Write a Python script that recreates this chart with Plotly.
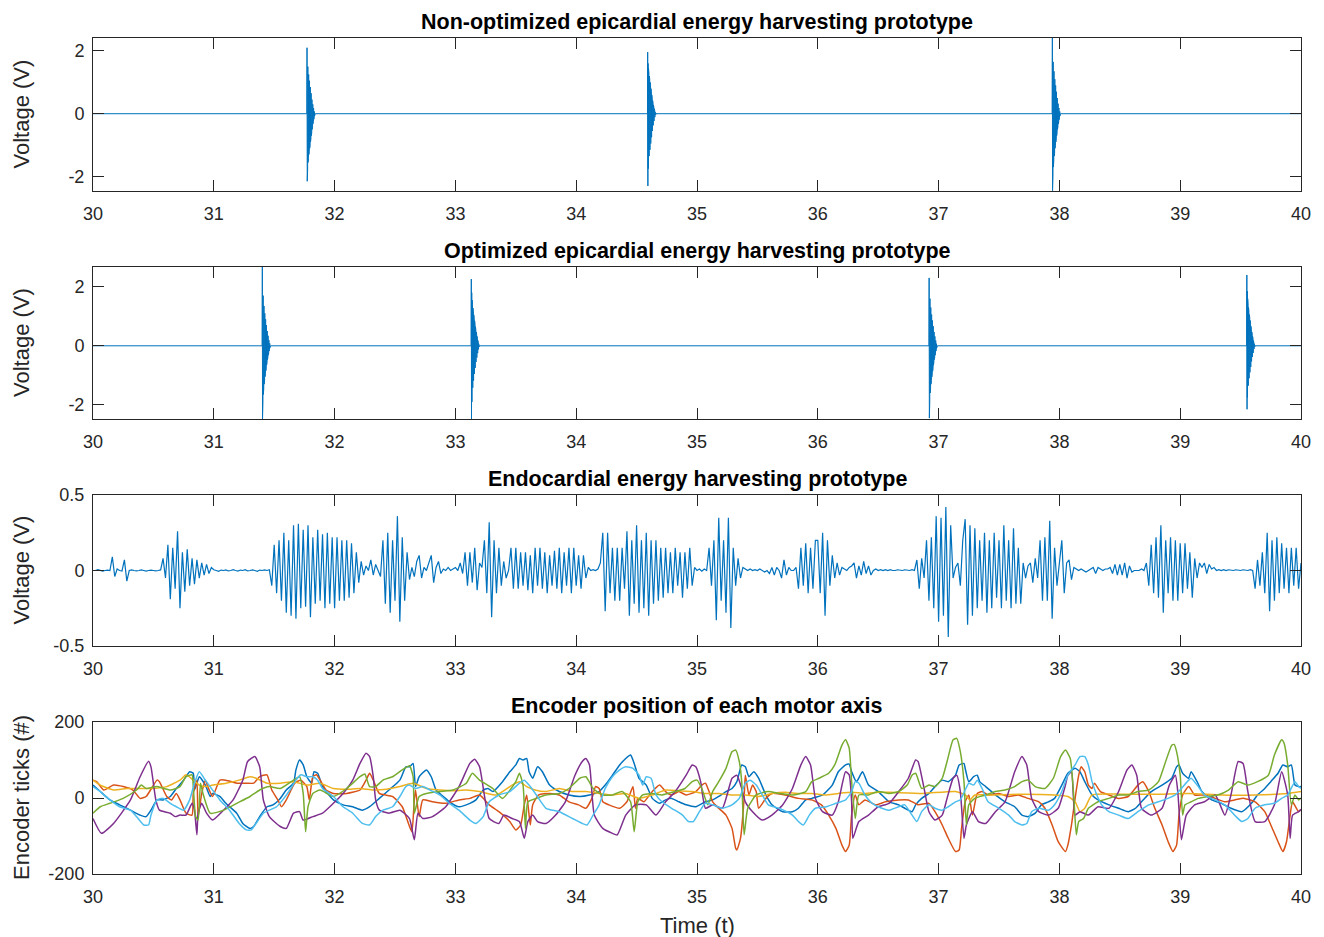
import plotly.graph_objects as go

# ---------------- data ----------------
titles = ["Non-optimized epicardial energy harvesting prototype",
          "Optimized epicardial energy harvesting prototype",
          "Endocardial energy harvesting prototype",
          "Encoder position of each motor axis"]
y_titles = ["Voltage (V)", "Voltage (V)", "Voltage (V)", "Encoder ticks (#)"]
x_title = "Time (t)"
x_ticks = [30, 31, 32, 33, 34, 35, 36, 37, 38, 39, 40]
x_ticklabels = ["30", "31", "32", "33", "34", "35", "36", "37", "38", "39", "40"]
volt_ticks = [-2, 0, 2]
volt_ticklabels = ["-2", "0", "2"]
endo_ticks = [-0.5, 0, 0.5]
endo_ticklabels = ["-0.5", "0", "0.5"]
enc_ticks = [-200, 0, 200]
enc_ticklabels = ["-200", "0", "200"]

# epicardial bursts (start time, samples every burst_dt)
burst_dt = 0.0017
epi1_starts = [31.77, 34.59, 37.94]
epi1_b1 = [0, 2.1, -2.15, 1.7, -1.8, 1.5, -1.55, 1.35, -1.4, 1.25, -1.3, 1.15, -1.2, 1.05, -1.1, 0.95, -1.0,
           0.85, -0.9, 0.75, -0.8, 0.65, -0.7, 0.55, -0.6, 0.45, -0.5, 0.38, -0.4, 0.3, -0.32, 0.24, -0.25,
           0.18, -0.18, 0.12, -0.12, 0.07, -0.07, 0.03, -0.03, 0]
epi1_b2 = [0, 1.96, -2.3, 1.6, -1.75, 1.45, -1.5, 1.3, -1.35, 1.2, -1.25, 1.1, -1.15, 1.0, -1.05, 0.9, -0.95,
           0.8, -0.85, 0.7, -0.75, 0.6, -0.65, 0.5, -0.55, 0.42, -0.45, 0.35, -0.37, 0.28, -0.3, 0.22, -0.23,
           0.16, -0.17, 0.11, -0.11, 0.06, -0.06, 0.03, -0.03, 0]
epi1_b3 = [0, 2.41, -2.45, 1.9, -1.95, 1.65, -1.7, 1.5, -1.5, 1.35, -1.35, 1.2, -1.25, 1.1, -1.1, 1.0, -1.0,
           0.9, -0.9, 0.8, -0.8, 0.7, -0.7, 0.6, -0.6, 0.5, -0.5, 0.4, -0.42, 0.32, -0.33, 0.25, -0.26,
           0.18, -0.19, 0.12, -0.12, 0.07, -0.07, 0.03, -0.03, 0]
epi2_starts = [31.40, 33.13, 36.92, 39.55]
epi2_b1 = [0, 2.67, -2.48, 2.0, -1.9, 1.7, -1.65, 1.5, -1.45, 1.35, -1.3, 1.2, -1.2, 1.1, -1.05, 1.0, -0.95,
           0.9, -0.85, 0.8, -0.75, 0.7, -0.65, 0.6, -0.55, 0.5, -0.47, 0.42, -0.4, 0.34, -0.32, 0.26, -0.25,
           0.19, -0.18, 0.13, -0.12, 0.08, -0.07, 0.04, -0.03, 0]
epi2_b2 = [0, 2.26, -2.48, 1.8, -1.9, 1.55, -1.6, 1.4, -1.42, 1.28, -1.3, 1.15, -1.18, 1.05, -1.05, 0.95, -0.95,
           0.85, -0.85, 0.75, -0.75, 0.65, -0.65, 0.55, -0.55, 0.47, -0.47, 0.4, -0.4, 0.32, -0.32, 0.25, -0.25,
           0.18, -0.18, 0.12, -0.12, 0.07, -0.07, 0.03, -0.03, 0]
epi2_b3 = [0, 2.3, -2.45, 1.85, -1.9, 1.6, -1.6, 1.42, -1.42, 1.3, -1.3, 1.18, -1.18, 1.06, -1.06, 0.96, -0.96,
           0.86, -0.86, 0.76, -0.76, 0.66, -0.66, 0.56, -0.56, 0.47, -0.47, 0.4, -0.4, 0.32, -0.32, 0.25, -0.25,
           0.18, -0.18, 0.12, -0.12, 0.07, -0.07, 0.03, -0.03, 0]
epi2_b4 = [0, 2.4, -2.15, 1.85, -1.75, 1.6, -1.5, 1.42, -1.35, 1.3, -1.22, 1.18, -1.1, 1.06, -1.0, 0.96, -0.9,
           0.86, -0.8, 0.76, -0.72, 0.66, -0.62, 0.56, -0.53, 0.47, -0.45, 0.4, -0.38, 0.32, -0.3, 0.25, -0.24,
           0.18, -0.17, 0.12, -0.11, 0.07, -0.06, 0.03, -0.03, 0]

# endocardial signal, one value every 0.02 s, one list per second
endo_dt = 0.02
endo_30 = [0, 0, 0.005, 0, -0.004, 0, 0.003, 0, 0.09, -0.04,
           0.01, 0, -0.003, 0.07, -0.07, 0, 0.004, 0, -0.003, 0,
           0.004, 0, -0.004, 0, 0.003, 0, -0.003, 0, 0.004, 0.08,
           -0.05, 0.17, -0.19, 0.15, -0.12, 0.26, -0.25, 0.12, -0.14, 0.14,
           -0.1, 0.08, -0.09, 0.07, -0.05, 0.05, -0.03, 0.04, -0.02, 0.02]
endo_31 = [0.005, 0, -0.005, 0.003, 0, 0.004, -0.003, 0, 0.005, 0,
           -0.004, 0.003, 0, 0.005, -0.003, 0, 0.004, 0, -0.005, 0.003,
           0, 0.004, 0, 0.005, -0.1, 0.17, -0.15, 0.2, -0.2, 0.25,
           -0.28, 0.2, -0.3, 0.3, -0.32, 0.31, -0.25, 0.27, -0.24, 0.3,
           -0.31, 0.22, -0.22, 0.27, -0.2, 0.24, -0.25, 0.25, -0.22, 0.22]
endo_32 = [-0.25, 0.22, -0.2, 0.2, -0.2, 0.2, -0.18, 0.18, -0.15, 0.12,
           -0.08, 0.06, -0.03, 0.03, 0.0, 0.07, -0.03, 0.04, 0.0, -0.04,
           0.2, -0.22, 0.25, -0.28, 0.2, -0.2, 0.36, -0.34, 0.22, -0.2,
           0.12, -0.06, 0.02, -0.04, 0.06, 0.1, -0.05, 0.02, 0.0, 0.05,
           0.1, -0.08, 0.02, 0.06, -0.02, 0.01, 0.0, 0.02, 0.0, 0.01]
endo_33 = [0.02, 0.0, 0.05, -0.02, 0.12, -0.1, 0.12, -0.08, 0.15, -0.13,
           0.05, 0.02, 0.2, -0.15, 0.32, -0.31, 0.2, -0.15, 0.15, -0.1,
           0.06, -0.05, 0.0, 0.15, -0.12, 0.15, -0.12, 0.12, -0.1, 0.12,
           -0.13, 0.1, -0.15, 0.15, -0.1, 0.15, -0.12, 0.12, -0.15, 0.1,
           -0.1, 0.13, -0.12, 0.15, -0.15, 0.12, -0.1, 0.15, -0.15, 0.15]
endo_34 = [-0.1, 0.1, -0.12, 0.1, -0.05, 0.02, 0.0, 0.005, 0.0, 0.01,
           0.05, 0.25, -0.27, 0.25, -0.15, 0.15, -0.2, 0.15, -0.2, 0.15,
           -0.12, 0.26, -0.3, 0.2, -0.22, 0.3, -0.28, 0.2, -0.25, 0.25,
           -0.3, 0.2, -0.22, 0.2, -0.2, 0.15, -0.18, 0.15, -0.15, 0.12,
           -0.15, 0.15, -0.1, 0.12, -0.18, 0.12, -0.12, 0.15, -0.1, 0.02]
endo_35 = [0.0, 0.01, -0.005, 0.01, 0.0, 0.15, -0.1, 0.2, -0.33, 0.35,
           -0.2, 0.2, -0.28, 0.35, -0.38, 0.15, -0.1, 0.08, -0.05, 0.02,
           0.01, 0.0, 0.01, 0.0, 0.005, 0.0, 0.01, 0.0, -0.01, 0.0,
           -0.02, 0.02, -0.03, 0.02, 0.0, -0.05, 0.07, -0.03, 0.02, 0.0,
           0.0, 0.02, -0.12, 0.15, -0.1, 0.18, -0.15, 0.15, -0.12, 0.2]
endo_36 = [0.2, -0.15, 0.25, -0.3, 0.2, -0.1, 0.1, -0.05, 0.05, -0.03,
           0.02, 0.01, 0.0, 0.02, 0.03, 0.05, -0.05, 0.03, -0.03, 0.06,
           -0.02, 0.03, -0.03, 0.0, 0.01, 0.0, 0.005, 0.0, 0.005, 0.0,
           0.005, 0.0, 0.0, 0.005, 0.0, 0.0, 0.005, 0.0, 0.0, 0.005,
           0.0, 0.07, -0.12, 0.08, -0.05, 0.2, -0.2, 0.22, -0.25, 0.36]
endo_37 = [-0.34, 0.35, -0.3, 0.42, -0.44, 0.3, -0.05, 0.02, 0.05, -0.1,
           0.2, 0.34, -0.36, 0.3, -0.3, 0.28, -0.25, 0.2, -0.2, 0.25,
           -0.28, 0.2, -0.25, 0.25, -0.18, 0.2, -0.25, 0.3, -0.2, 0.2,
           -0.25, 0.28, -0.22, 0.15, -0.22, 0.05, -0.05, 0.03, 0.05, -0.08,
           0.08, -0.05, 0.2, -0.2, 0.22, -0.2, 0.33, -0.32, 0.15, -0.1]
endo_38 = [0.05, 0.2, -0.15, 0.05, 0.07, -0.06, 0.02, 0.01, 0.0, 0.01,
           0.0, -0.01, 0.0, 0.01, 0.02, -0.02, 0.02, 0.01, 0.0, 0.01,
           0.01, 0.02, -0.02, 0.04, -0.03, 0.04, -0.03, 0.05, -0.05, 0.03,
           -0.01, 0.0, 0.0, 0.0, 0.01, 0.0, 0.05, -0.1, 0.17, -0.15,
           0.22, -0.18, 0.3, -0.28, 0.2, -0.15, 0.22, -0.2, 0.2, -0.2]
endo_39 = [0.18, -0.15, 0.18, -0.12, 0.12, -0.18, 0.08, -0.05, 0.05, 0.02,
           0.05, -0.02, 0.04, 0.01, 0.02, 0.0, 0.005, 0.0, 0.005, 0.0,
           0.005, 0.0, 0.0, 0.005, 0.0, 0.0, 0.005, 0.0, 0.0, 0.005,
           0.0, -0.12, 0.07, -0.1, 0.12, -0.15, 0.25, -0.27, 0.2, -0.2,
           0.22, -0.15, 0.18, -0.12, 0.15, -0.15, 0.15, -0.1, 0.15, -0.12]
endo_40 = [0.05]

# encoder positions, (time, ticks) read at turning points
enc_blue = [(30.00,34),(30.06,17),(30.14,-5),(30.22,-18),(30.31,-32),(30.39,-45),(30.44,-49),(30.48,-32),
    (30.53,-5),(30.58,-5),(30.64,4),(30.69,25),(30.75,47),(30.80,69),(30.83,65),(30.84,21),(30.86,39),
    (30.88,56),(30.93,34),(30.97,4),(30.99,12),(31.05,4),(31.10,-14),(31.19,-40),(31.24,-67),(31.30,-80),
    (31.33,-75),(31.38,-49),(31.44,-23),(31.49,-18),(31.55,-1),(31.60,21),(31.66,39),(31.68,74),(31.71,100),
    (31.74,87),(31.77,56),(31.81,39),(31.83,69),(31.86,65),(31.90,30),(31.99,-5),(32.07,-18),(32.15,-23),
    (32.23,-32),(32.29,-23),(32.37,-1),(32.45,21),(32.54,47),(32.59,82),(32.62,82),(32.65,91),(32.67,30),
    (32.70,56),(32.76,74),(32.80,56),(32.84,21),(32.90,4),(32.95,-10),(33.03,-23),(33.12,-14),(33.17,-5),
    (33.23,21),(33.27,25),(33.31,17),(33.39,43),(33.45,69),(33.50,87),(33.53,104),(33.56,100),(33.59,104),
    (33.61,69),(33.64,52),(33.68,82),(33.72,69),(33.78,34),(33.86,17),(33.94,8),(34.03,4),(34.11,8),
    (34.19,17),(34.24,34),(34.30,60),(34.36,87),(34.41,104),(34.45,113),(34.48,91),(34.52,52),(34.58,34),
    (34.63,-1),(34.69,-14),(34.74,-5),(34.79,-1),(34.85,-10),(34.91,-18),(34.99,-23),(35.07,-10),(35.13,-5),
    (35.18,4),(35.24,17),(35.29,25),(35.33,43),(35.37,87),(35.40,82),(35.43,56),(35.47,69),(35.51,52),
    (35.57,8),(35.62,-18),(35.71,-36),(35.79,-36),(35.84,-27),(35.90,-5),(35.95,-1),(36.04,8),(36.12,34),
    (36.17,69),(36.23,87),(36.26,89),(36.28,69),(36.32,43),(36.37,69),(36.42,34),(36.50,17),(36.59,-10),
    (36.67,-18),(36.72,-27),(36.78,-36),(36.81,-18),(36.86,-1),(36.92,12),(36.97,30),(37.03,47),(37.08,43),
    (37.14,60),(37.17,87),(37.21,91),(37.22,78),(37.25,43),(37.29,56),(37.32,60),(37.34,43),(37.39,30),
    (37.47,8),(37.55,-10),(37.63,-23),(37.69,-45),(37.74,-49),(37.80,-40),(37.85,-18),(37.91,-10),(37.96,-1),
    (38.02,34),(38.07,65),(38.13,78),(38.17,69),(38.21,43),(38.27,8),(38.32,-5),(38.41,-18),(38.49,-27),
    (38.57,-36),(38.63,-27),(38.68,-10),(38.76,17),(38.85,34),(38.93,52),(38.97,82),(38.99,87),(39.02,65),
    (39.07,52),(39.09,69),(39.14,43),(39.18,17),(39.26,-5),(39.34,-14),(39.42,-27),(39.51,-36),(39.59,-14),
    (39.64,8),(39.70,25),(39.75,43),(39.81,65),(39.85,87),(39.89,82),(39.92,87),(39.95,34),(39.98,30),(40.00,30)]
enc_orange = [(30.00,47),(30.03,43),(30.09,21),(30.17,34),(30.25,30),(30.33,21),(30.39,-1),(30.44,4),
    (30.53,47),(30.55,43),(30.61,4),(30.65,-5),(30.69,12),(30.72,-5),(30.77,-40),(30.82,-45),(30.83,12),
    (30.86,47),(30.87,-49),(30.90,12),(30.93,47),(30.95,30),(30.99,4),(31.05,47),(31.10,47),(31.19,39),
    (31.27,39),(31.33,39),(31.38,56),(31.44,61),(31.48,21),(31.53,-5),(31.56,-23),(31.60,-5),(31.67,39),
    (31.72,47),(31.77,30),(31.79,-5),(31.82,56),(31.85,61),(31.88,47),(31.93,21),(31.99,12),(32.10,12),
    (32.21,21),(32.26,47),(32.29,65),(32.32,47),(32.37,12),(32.48,4),(32.56,-23),(32.62,-75),(32.64,-89),
    (32.66,-5),(32.67,21),(32.70,-49),(32.73,-5),(32.81,-10),(32.92,-14),(33.03,-5),(33.12,-1),(33.20,8),
    (33.28,-18),(33.36,-36),(33.45,-62),(33.50,-84),(33.54,-71),(33.57,-18),(33.59,8),(33.61,-45),(33.62,-71),
    (33.64,-18),(33.69,8),(33.78,12),(33.86,8),(33.94,-10),(34.02,-18),(34.08,-27),(34.13,-1),(34.16,30),
    (34.19,25),(34.22,-10),(34.27,-18),(34.36,-27),(34.42,-10),(34.47,30),(34.49,-27),(34.51,-1),(34.56,-10),
    (34.63,17),(34.69,34),(34.74,17),(34.79,8),(34.85,17),(34.91,8),(34.99,17),(35.04,34),(35.07,39),
    (35.10,17),(35.13,-10),(35.18,-27),(35.24,-45),(35.29,-80),(35.32,-132),(35.33,-137),(35.36,-106),
    (35.39,-1),(35.40,60),(35.43,8),(35.46,34),(35.49,17),(35.51,-27),(35.57,-1),(35.62,12),(35.73,8),
    (35.84,-1),(35.95,-5),(36.03,-18),(36.09,-45),(36.15,-80),(36.20,-124),(36.23,-141),(36.26,-124),
    (36.28,-45),(36.31,8),(36.34,-18),(36.39,-5),(36.48,-18),(36.56,-10),(36.67,-5),(36.75,-5),(36.83,-18),
    (36.92,-14),(36.97,-36),(37.03,-71),(37.08,-106),(37.14,-141),(37.17,-137),(37.19,-80),(37.22,-10),
    (37.25,8),(37.28,-45),(37.32,12),(37.36,17),(37.41,8),(37.50,12),(37.58,4),(37.66,8),(37.74,-1),
    (37.83,-10),(37.88,-27),(37.94,-71),(37.99,-115),(38.05,-141),(38.07,-124),(38.10,-71),(38.13,-1),
    (38.16,60),(38.18,82),(38.21,69),(38.24,34),(38.27,25),(38.29,39),(38.34,17),(38.41,8),(38.49,-1),
    (38.57,4),(38.65,34),(38.69,43),(38.74,17),(38.79,-27),(38.85,-71),(38.90,-115),(38.94,-141),(38.97,-124),
    (38.99,-45),(39.02,8),(39.07,30),(39.12,8),(39.20,8),(39.29,-1),(39.37,-10),(39.45,-5),(39.53,-1),
    (39.62,-10),(39.70,-36),(39.75,-71),(39.81,-115),(39.85,-141),(39.88,-115),(39.91,-45),(39.93,-10),
    (39.98,-36),(40.00,-30)]
enc_yellow = [(30.00,47),(30.06,34),(30.17,21),(30.28,25),(30.39,25),(30.50,25),(30.61,30),(30.72,47),
    (30.77,61),(30.83,47),(30.88,34),(30.94,30),(30.99,34),(31.10,39),(31.21,47),(31.30,56),(31.35,52),
    (31.44,39),(31.55,39),(31.66,43),(31.77,34),(31.88,39),(31.99,25),(32.10,23),(32.21,25),(32.32,21),
    (32.43,23),(32.54,30),(32.65,39),(32.76,25),(32.87,21),(32.98,19),(33.09,21),(33.20,17),(33.34,8),
    (33.47,34),(33.53,43),(33.59,30),(33.66,21),(33.75,17),(33.86,25),(33.97,17),(34.08,17),(34.19,12),
    (34.30,8),(34.41,12),(34.52,-1),(34.63,8),(34.74,21),(34.85,19),(34.96,17),(35.07,12),(35.18,12),
    (35.29,8),(35.40,8),(35.51,4),(35.62,12),(35.73,15),(35.84,12),(35.95,12),(36.06,8),(36.17,12),
    (36.28,15),(36.39,12),(36.50,15),(36.59,15),(36.87,12),(37.14,17),(37.22,8),(37.26,-5),(37.30,8),
    (37.41,8),(37.69,10),(37.96,8),(38.07,4),(38.13,-10),(38.17,-36),(38.21,-27),(38.27,8),(38.52,10),
    (38.79,10),(39.07,12),(39.34,8),(39.62,8),(39.89,12),(40.00,17)]
enc_purple = [(30.00,-54),(30.07,-93),(30.17,-67),(30.31,-5),(30.39,56),(30.46,97),(30.48,82),(30.52,-5),
    (30.55,-32),(30.64,-40),(30.68,-49),(30.72,-45),(30.77,-45),(30.82,-14),(30.84,-32),(30.86,-97),
    (30.87,-40),(30.90,-14),(30.94,-40),(30.99,-58),(31.08,-32),(31.16,-5),(31.24,47),(31.28,96),(31.34,109),
    (31.38,82),(31.41,-5),(31.46,-49),(31.55,-75),(31.60,-80),(31.66,-40),(31.71,-36),(31.74,-58),(31.82,-49),
    (31.90,-40),(31.99,-14),(32.07,12),(32.15,47),(32.21,91),(32.26,118),(32.29,109),(32.32,56),(32.34,-5),
    (32.37,-32),(32.45,-40),(32.54,-32),(32.62,-54),(32.66,-110),(32.69,-40),(32.73,-54),(32.81,-49),
    (32.92,-23),(33.03,30),(33.12,91),(33.16,102),(33.20,82),(33.28,-54),(33.36,-67),(33.40,-45),(33.47,-54),
    (33.53,-62),(33.57,-106),(33.60,-62),(33.64,-45),(33.68,-62),(33.75,-67),(33.83,-45),(33.91,-10),
    (33.99,60),(34.05,96),(34.08,104),(34.11,87),(34.15,-45),(34.22,-80),(34.30,-93),(34.34,-97),(34.41,-45),
    (34.49,-18),(34.58,-18),(34.66,-45),(34.74,-10),(34.82,17),(34.91,60),(34.96,87),(34.99,82),(35.03,43),
    (35.07,-27),(35.13,-18),(35.21,-27),(35.29,52),(35.33,60),(35.37,25),(35.40,-10),(35.46,-36),(35.54,-58),
    (35.62,-45),(35.71,-18),(35.79,25),(35.86,87),(35.90,109),(35.94,87),(35.98,-1),(36.04,-36),(36.12,-45),
    (36.17,-10),(36.23,69),(36.26,61),(36.28,-10),(36.29,-106),(36.34,-62),(36.42,-45),(36.50,-23),
    (36.59,-14),(36.67,17),(36.75,52),(36.81,100),(36.83,96),(36.88,25),(36.92,-36),(36.97,-58),(37.03,-45),
    (37.07,-1),(37.12,52),(37.15,60),(37.18,17),(37.21,-106),(37.23,-71),(37.28,-36),(37.33,-62),(37.39,-67),
    (37.47,-36),(37.55,-10),(37.63,69),(37.69,109),(37.73,87),(37.77,-1),(37.83,-36),(37.91,-45),(37.99,-27),
    (38.05,34),(38.07,60),(38.10,69),(38.13,-45),(38.17,-36),(38.24,-45),(38.32,-23),(38.41,-27),(38.49,17),
    (38.56,74),(38.60,87),(38.64,60),(38.68,-27),(38.76,-45),(38.85,-27),(38.91,34),(38.96,60),(38.98,17),
    (39.01,-110),(39.05,-45),(39.12,-18),(39.20,-10),(39.29,8),(39.37,-45),(39.42,8),(39.48,96),(39.52,91),
    (39.56,17),(39.62,-62),(39.70,-62),(39.78,-18),(39.84,69),(39.89,8),(39.91,-106),(39.93,-45),(39.98,-36),
    (40.00,-30)]
enc_green = [(30.00,-40),(30.06,-23),(30.14,-14),(30.25,-1),(30.36,21),(30.40,34),(30.44,25),(30.53,30),
    (30.64,21),(30.72,30),(30.77,56),(30.82,61),(30.83,30),(30.85,-49),(30.87,-58),(30.89,39),(30.91,12),
    (30.97,-40),(31.08,-32),(31.19,-14),(31.30,4),(31.38,21),(31.46,30),(31.55,25),(31.66,47),(31.71,56),
    (31.74,12),(31.76,-89),(31.78,-23),(31.82,12),(31.88,21),(31.99,4),(32.10,25),(32.21,56),(32.25,63),
    (32.29,30),(32.34,30),(32.40,47),(32.48,56),(32.56,74),(32.62,85),(32.65,56),(32.66,-40),(32.70,4),
    (32.76,12),(32.87,17),(32.98,21),(33.09,39),(33.14,65),(33.20,47),(33.31,25),(33.39,-1),(33.50,43),
    (33.53,65),(33.56,34),(33.58,-80),(33.60,-10),(33.67,-1),(33.75,8),(33.86,12),(33.94,25),(34.03,52),
    (34.08,56),(34.14,25),(34.22,8),(34.30,8),(34.38,17),(34.45,-10),(34.48,-89),(34.51,-10),(34.55,8),
    (34.63,12),(34.71,8),(34.82,17),(34.90,25),(34.96,43),(35.00,47),(35.04,25),(35.09,-18),(35.13,17),
    (35.18,43),(35.24,78),(35.29,122),(35.32,126),(35.35,96),(35.37,43),(35.39,-97),(35.42,-27),(35.49,8),
    (35.59,17),(35.68,12),(35.79,8),(35.90,17),(35.95,43),(36.01,52),(36.09,65),(36.14,87),(36.20,139),
    (36.23,153),(36.26,131),(36.28,43),(36.31,-54),(36.34,8),(36.42,8),(36.50,17),(36.59,12),(36.67,17),
    (36.74,34),(36.78,60),(36.81,65),(36.86,25),(36.92,34),(36.97,30),(37.03,52),(37.07,96),(37.12,153),
    (37.15,157),(37.18,122),(37.21,43),(37.23,-71),(37.25,-18),(37.30,-1),(37.39,8),(37.47,17),(37.55,21),
    (37.63,30),(37.69,43),(37.74,47),(37.80,30),(37.88,25),(37.95,52),(38.01,109),(38.05,126),(38.09,104),
    (38.12,-1),(38.14,-97),(38.16,-62),(38.20,-54),(38.24,-27),(38.32,-10),(38.41,-1),(38.49,8),(38.57,8),
    (38.65,17),(38.74,21),(38.82,43),(38.87,87),(38.93,139),(38.95,141),(38.97,122),(39.00,60),(39.02,-45),
    (39.04,-18),(39.09,-10),(39.15,-1),(39.23,4),(39.31,8),(39.40,21),(39.48,43),(39.56,34),(39.64,43),
    (39.73,60),(39.78,113),(39.84,153),(39.86,144),(39.89,87),(39.92,-18),(39.95,8),(39.98,-5),(40.00,0)]
enc_lightblue = [(30.00,30),(30.06,17),(30.14,-5),(30.22,-23),(30.31,-32),(30.36,-49),(30.42,-71),(30.46,-71),
    (30.48,-45),(30.53,-5),(30.58,-1),(30.64,-14),(30.69,-23),(30.75,-32),(30.80,-5),(30.84,39),(30.88,69),
    (30.93,47),(30.98,25),(31.05,-5),(31.13,-32),(31.21,-67),(31.27,-84),(31.31,-84),(31.35,-67),(31.41,-40),
    (31.46,-32),(31.52,-23),(31.57,-5),(31.63,21),(31.68,47),(31.72,61),(31.77,56),(31.82,56),(31.86,47),
    (31.90,25),(31.99,4),(32.07,-23),(32.15,-40),(32.23,-67),(32.29,-71),(32.34,-49),(32.40,-32),(32.48,-23),
    (32.54,4),(32.59,30),(32.62,34),(32.67,25),(32.73,30),(32.79,21),(32.87,8),(32.95,-14),(33.03,-32),
    (33.12,-58),(33.17,-67),(33.23,-49),(33.28,-10),(33.36,8),(33.45,17),(33.53,39),(33.57,47),(33.61,34),
    (33.67,8),(33.75,-27),(33.86,-36),(33.97,-54),(34.05,-67),(34.09,-71),(34.14,-45),(34.19,-18),(34.24,25),
    (34.30,56),(34.36,74),(34.41,82),(34.47,78),(34.52,60),(34.55,34),(34.58,56),(34.62,52),(34.66,8),
    (34.71,-10),(34.79,-27),(34.88,-45),(34.93,-62),(34.97,-62),(35.02,-36),(35.07,-14),(35.13,-18),
    (35.21,-27),(35.29,-18),(35.35,-1),(35.40,39),(35.44,47),(35.49,34),(35.54,8),(35.59,-18),(35.68,-27),
    (35.79,-45),(35.84,-62),(35.88,-71),(35.93,-45),(35.98,-27),(36.07,-23),(36.15,-14),(36.23,-5),(36.28,17),
    (36.31,43),(36.34,39),(36.39,8),(36.45,-14),(36.53,-27),(36.59,-32),(36.67,-23),(36.72,-18),(36.78,-45),
    (36.82,-62),(36.86,-36),(36.92,-18),(36.97,-27),(37.03,-32),(37.08,-23),(37.14,-10),(37.18,-5),(37.22,21),
    (37.25,39),(37.29,34),(37.32,47),(37.36,25),(37.41,-10),(37.50,-27),(37.58,-45),(37.63,-62),(37.69,-71),
    (37.73,-67),(37.77,-36),(37.83,-27),(37.91,-32),(37.96,-18),(38.02,17),(38.07,60),(38.13,87),(38.17,109),
    (38.21,109),(38.24,87),(38.27,43),(38.31,8),(38.35,-18),(38.41,-36),(38.49,-45),(38.57,-54),(38.65,-36),
    (38.74,-18),(38.82,-10),(38.90,-1),(38.96,8),(39.01,25),(39.07,47),(39.09,52),(39.15,30),(39.20,8),
    (39.29,-5),(39.37,-18),(39.45,-45),(39.51,-62),(39.56,-54),(39.62,-27),(39.70,-18),(39.78,-14),(39.84,-1),
    (39.89,8),(39.95,43),(39.98,30),(40.00,25)]

# ---------------- styling ----------------
W, H = 1324, 937
FONT = "Arial, 'Liberation Sans', Helvetica, sans-serif"
AXC = "#262626"
SIG = "#0072BD"
enc_colors = ["#0072BD", "#D95319", "#EDB120", "#7E2F8E", "#77AC30", "#4DBEEE"]
panel_px = [(38, 191), (267, 419), (495, 646), (722, 874)]
title_px = [22, 251, 479, 706]
x_dom = [93 / W, 1301 / W]
y_ranges = [[-2.46, 2.41], [-2.48, 2.67], [-0.5, 0.5], [-200, 200]]


def pyp(p):
    return 1 - p / H


fig = go.Figure()


def burst_trace(starts, bursts, axis):
    xs, ys = [30.0], [0.0]
    for t0, vals in zip(starts, bursts):
        for i, v in enumerate(vals):
            xs.append(t0 + i * burst_dt)
            ys.append(v)
    xs.append(40.0)
    ys.append(0.0)
    return go.Scatter(x=xs, y=ys, mode="lines", line=dict(color=SIG, width=1),
                      xaxis="x" + axis, yaxis="y" + axis, showlegend=False, hoverinfo="skip")


fig.add_trace(burst_trace(epi1_starts, [epi1_b1, epi1_b2, epi1_b3], ""))
fig.add_trace(burst_trace(epi2_starts, [epi2_b1, epi2_b2, epi2_b3, epi2_b4], "2"))

endo_vals = endo_30 + endo_31 + endo_32 + endo_33 + endo_34 + endo_35 + endo_36 + endo_37 + endo_38 + endo_39 + endo_40
endo_t = [30 + i * endo_dt for i in range(len(endo_vals))]
fig.add_trace(go.Scatter(x=endo_t, y=endo_vals, mode="lines", line=dict(color=SIG, width=1.2),
                         xaxis="x3", yaxis="y3", showlegend=False, hoverinfo="skip"))

for series, col in zip([enc_blue, enc_orange, enc_yellow, enc_purple, enc_green, enc_lightblue], enc_colors):
    tt = [p[0] for p in series]
    vv = [p[1] for p in series]
    fig.add_trace(go.Scatter(x=tt, y=vv, mode="lines",
                             line=dict(color=col, width=1.5, shape="spline", smoothing=0.5),
                             xaxis="x4", yaxis="y4", showlegend=False, hoverinfo="skip"))

ytick_sets = [(volt_ticks, volt_ticklabels), (volt_ticks, volt_ticklabels),
              (endo_ticks, endo_ticklabels), (enc_ticks, enc_ticklabels)]
layout = dict(width=W, height=H, margin=dict(l=0, r=0, t=0, b=0, autoexpand=False),
              paper_bgcolor="white", plot_bgcolor="white",
              font=dict(family=FONT, size=18, color=AXC), annotations=[])
for i in range(4):
    sfx = "" if i == 0 else str(i + 1)
    top, bot = panel_px[i]
    layout["xaxis" + sfx] = dict(domain=x_dom, range=[30, 40], anchor="y" + sfx,
                                 tickvals=x_ticks, ticktext=x_ticklabels, automargin=False,
                                 showline=True, linecolor=AXC, linewidth=1, mirror="ticks",
                                 ticks="inside", ticklen=11, tickcolor=AXC, tickwidth=1,
                                 showgrid=False, zeroline=False, ticklabelstandoff=6,
                                 tickfont=dict(size=18, color=AXC, family=FONT), fixedrange=True)
    tv, tl = ytick_sets[i]
    layout["yaxis" + sfx] = dict(domain=[pyp(bot), pyp(top)], range=y_ranges[i], anchor="x" + sfx,
                                 tickvals=tv, ticktext=tl, automargin=False,
                                 showline=True, linecolor=AXC, linewidth=1, mirror="ticks",
                                 ticks="inside", ticklen=11, tickcolor=AXC, tickwidth=1,
                                 showgrid=False, zeroline=False, ticklabelstandoff=4,
                                 tickfont=dict(size=18, color=AXC, family=FONT), fixedrange=True)
    layout["annotations"].append(dict(text="<b>" + titles[i] + "</b>", x=(x_dom[0] + x_dom[1]) / 2,
                                      y=pyp(title_px[i]), xref="paper", yref="paper",
                                      xanchor="center", yanchor="middle", showarrow=False,
                                      font=dict(size=21.5, color="#000000", family=FONT)))
    layout["annotations"].append(dict(text=y_titles[i], x=21 / W, y=pyp((top + bot) / 2),
                                      xref="paper", yref="paper", textangle=-90,
                                      xanchor="center", yanchor="middle", showarrow=False,
                                      font=dict(size=22, color=AXC, family=FONT)))
layout["annotations"].append(dict(text=x_title, x=697 / W, y=pyp(925), xref="paper", yref="paper",
                                  xanchor="center", yanchor="middle", showarrow=False,
                                  font=dict(size=22, color=AXC, family=FONT)))
fig.update_layout(**layout)
fig.write_html("out.html", config={"displayModeBar": False},
               post_script="document.body.style.margin='0px';document.body.style.overflow='hidden';")
